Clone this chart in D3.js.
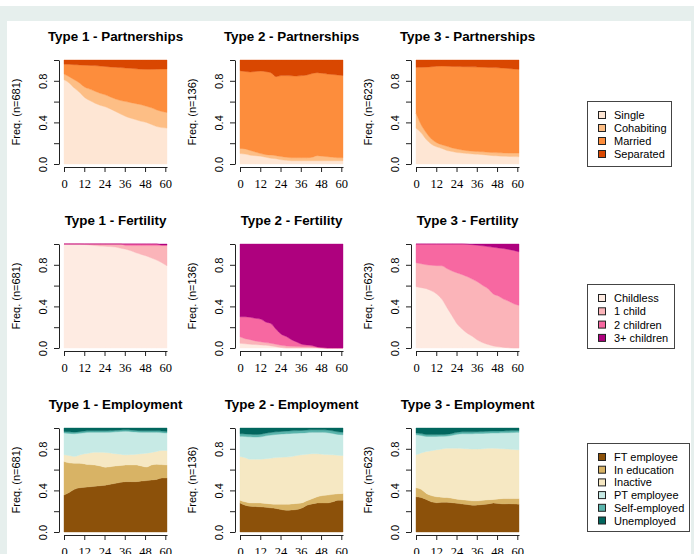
<!DOCTYPE html>
<html><head><meta charset="utf-8">
<script src="https://cdn.jsdelivr.net/npm/d3@7"></script>
<style>body{margin:0;background:#fff}svg{display:block}</style>
</head><body>
<svg id="c" width="694" height="554"></svg>
<script>
// ---------------- DATA ----------------
const months = [0,3,6,9,12,15,18,21,24,27,30,33,36,39,42,45,48,51,54,57,60];
const typeLabels = ["Type 1","Type 2","Type 3"];
const typeN = [681,136,623];
const xTicks = [0,12,24,36,48,60];
const yTicks = [0,0.2,0.4,0.6,0.8,1];
const yTickLabels = ["0.0","","0.4","","0.8",""];

// Partnerships
const partStates = ["Single","Cohabiting","Married","Separated"];
const partColors = ["#FEE6D4","#FDBE85","#FD8D3C","#D94701"];
const p1Single = [.81,.78,.73,.69,.64,.61,.585,.565,.55,.53,.505,.48,.457,.44,.425,.41,.40,.38,.36,.35,.345];
const p1Cohab  = [.055,.06,.08,.09,.10,.11,.115,.115,.115,.115,.12,.13,.143,.15,.155,.16,.155,.16,.16,.155,.15];
const p1Married= [.095,.118,.145,.173,.21,.228,.246,.262,.273,.288,.305,.317,.323,.33,.335,.342,.355,.37,.392,.408,.419];
const p1Sep    = [.04,.042,.045,.047,.05,.052,.054,.058,.062,.067,.07,.073,.077,.08,.085,.088,.09,.09,.088,.087,.086];
const p2Single = [.10,.095,.085,.08,.075,.065,.055,.05,.04,.035,.032,.032,.032,.032,.032,.032,.032,.032,.032,.032,.032];
const p2Cohab  = [.05,.05,.045,.035,.025,.025,.032,.03,.032,.03,.028,.028,.028,.028,.033,.048,.043,.038,.033,.028,.028];
const p2Married= [.747,.745,.755,.775,.794,.798,.791,.76,.778,.785,.788,.786,.79,.796,.805,.798,.797,.795,.795,.796,.79];
const p2Sep    = [.103,.11,.115,.11,.106,.112,.122,.16,.15,.15,.152,.154,.15,.144,.13,.122,.128,.135,.14,.144,.15];
const p3Single = [.345,.30,.235,.19,.165,.15,.13,.12,.11,.105,.10,.097,.093,.09,.085,.08,.078,.075,.073,.071,.07];
const p3Cohab  = [.145,.077,.065,.05,.04,.035,.04,.035,.034,.03,.028,.026,.027,.027,.028,.03,.03,.031,.032,.034,.035];
const p3Married= [.44,.553,.632,.695,.735,.757,.77,.783,.793,.801,.807,.811,.812,.813,.815,.817,.817,.816,.813,.809,.805];
const p3Sep    = [.07,.07,.068,.065,.06,.058,.06,.062,.063,.064,.065,.066,.068,.07,.072,.073,.075,.078,.082,.086,.09];

// Fertility
const fertStates = ["Childless","1 child","2 children","3+ children"];
const fertColors = ["#FEEBE2","#FBB4B9","#F768A1","#AE017E"];
const f1None  = [1,1,1,1,.995,.99,.985,.98,.978,.975,.97,.96,.95,.935,.915,.90,.885,.865,.845,.82,.79];
const f1One   = [0,0,0,0,.005,.01,.015,.02,.022,.025,.03,.04,.035,.05,.07,.085,.10,.12,.14,.165,.195];
const f1Two   = [0,0,0,0,0,0,0,0,0,0,0,0,.015,.015,.015,.015,.015,.015,.015,.005,.005];
const f1Three = [0,0,0,0,0,0,0,0,0,0,0,0,0,0,0,0,0,0,0,.01,.01];
const f2None  = [.045,.04,.036,.033,.03,.027,.02,.013,.005,0,0,0,0,0,0,0,0,0,0,0,0];
const f2One   = [.062,.05,.044,.035,.03,.025,.025,.023,.021,.02,.016,.014,.013,.012,.01,.005,0,0,0,0,0];
const f2Two   = [.193,.21,.215,.217,.218,.198,.19,.144,.107,.09,.064,.044,.023,.018,.015,.005,.005,0,0,0,0];
const f2Three = [.70,.70,.705,.715,.722,.75,.765,.82,.867,.89,.92,.942,.964,.97,.975,.99,.995,1,1,1,1];
const f3None  = [.59,.58,.57,.55,.52,.47,.39,.31,.23,.18,.14,.11,.074,.05,.033,.02,.012,.006,.003,0,0];
const f3One   = [.23,.23,.23,.245,.272,.32,.374,.43,.492,.525,.545,.55,.561,.55,.537,.50,.488,.464,.447,.425,.41];
const f3Two   = [.18,.19,.20,.205,.208,.21,.236,.26,.278,.295,.312,.333,.353,.382,.405,.448,.462,.486,.498,.513,.515];
const f3Three = [0,0,0,0,0,0,0,0,0,0,.003,.007,.012,.018,.025,.032,.038,.044,.052,.062,.075];

// Employment
const empStates = ["FT employee","In education","Inactive","PT employee","Self-employed","Unemployed"];
const empColors = ["#8C510A","#D8B365","#F6E8C3","#C7EAE5","#5AB4AC","#01665E"];
const e1FT    = [.355,.38,.41,.425,.43,.435,.44,.445,.45,.46,.468,.478,.484,.484,.484,.49,.494,.50,.506,.52,.52];
const e1Edu   = [.322,.285,.25,.235,.225,.213,.205,.19,.173,.168,.167,.162,.161,.161,.161,.145,.131,.145,.146,.128,.125];
const e1Inact = [.065,.07,.066,.08,.097,.112,.123,.131,.142,.132,.117,.108,.097,.10,.103,.117,.133,.12,.123,.136,.139];
const e1PT    = [.21,.213,.219,.21,.203,.198,.19,.192,.193,.20,.211,.218,.226,.22,.214,.206,.20,.193,.183,.171,.168];
const e1Self  = [.015,.015,.015,.015,.015,.015,.015,.015,.015,.015,.015,.015,.015,.015,.015,.015,.015,.015,.015,.015,.015];
const e1Unemp = [.033,.037,.04,.035,.03,.027,.027,.027,.027,.025,.022,.019,.017,.02,.023,.027,.027,.027,.027,.03,.033];
const e2FT    = [.28,.258,.248,.245,.242,.238,.232,.226,.216,.21,.212,.216,.23,.258,.27,.28,.28,.28,.29,.306,.306];
const e2Edu   = [.026,.032,.032,.035,.038,.037,.038,.042,.052,.058,.058,.059,.05,.042,.05,.059,.07,.075,.072,.062,.065];
const e2Inact = [.42,.425,.42,.42,.42,.43,.44,.448,.45,.452,.455,.46,.462,.448,.432,.413,.398,.39,.38,.37,.364];
const e2PT    = [.194,.203,.215,.213,.215,.22,.222,.222,.224,.225,.223,.215,.21,.207,.206,.206,.21,.21,.206,.20,.20];
const e2Self  = [.025,.025,.025,.025,.025,.025,.025,.025,.025,.025,.025,.025,.025,.025,.025,.025,.025,.025,.025,.025,.025];
const e2Unemp = [.055,.057,.06,.062,.06,.05,.043,.037,.033,.03,.027,.025,.023,.02,.017,.017,.017,.02,.027,.037,.04];
const e3FT    = [.339,.332,.313,.29,.282,.285,.287,.282,.276,.27,.265,.258,.26,.265,.27,.28,.275,.27,.272,.27,.268];
const e3Edu   = [.087,.078,.058,.06,.057,.05,.045,.043,.04,.04,.04,.042,.04,.04,.04,.033,.043,.053,.051,.053,.055];
const e3Inact = [.316,.35,.403,.432,.451,.463,.474,.481,.49,.494,.495,.497,.497,.495,.495,.493,.485,.477,.474,.47,.467];
const e3PT    = [.193,.168,.145,.137,.129,.122,.116,.124,.134,.141,.145,.148,.15,.148,.145,.146,.149,.154,.158,.164,.168];
const e3Self  = [.018,.018,.018,.018,.018,.018,.018,.018,.018,.018,.018,.018,.018,.018,.018,.018,.018,.018,.018,.018,.018];
const e3Unemp = [.047,.054,.063,.063,.063,.062,.06,.052,.042,.037,.037,.037,.035,.034,.032,.03,.03,.028,.027,.025,.024];

// ---------------- BUILD ----------------
const domains = [
  {name:"Partnerships", states:partStates, colors:partColors,
   types:[[p1Single,p1Cohab,p1Married,p1Sep],[p2Single,p2Cohab,p2Married,p2Sep],[p3Single,p3Cohab,p3Married,p3Sep]]},
  {name:"Fertility", states:fertStates, colors:fertColors,
   types:[[f1None,f1One,f1Two,f1Three],[f2None,f2One,f2Two,f2Three],[f3None,f3One,f3Two,f3Three]]},
  {name:"Employment", states:empStates, colors:empColors,
   types:[[e1FT,e1Edu,e1Inact,e1PT,e1Self,e1Unemp],[e2FT,e2Edu,e2Inact,e2PT,e2Self,e2Unemp],[e3FT,e3Edu,e3Inact,e3PT,e3Self,e3Unemp]]}
];

const svg = d3.select("#c");
svg.append("rect").attr("x",0).attr("y",0).attr("width",694).attr("height",554).attr("fill","#fff");
svg.append("rect").attr("x",0).attr("y",6).attr("width",694).attr("height",548).attr("fill","#E6EFED");
svg.append("rect").attr("x",7).attr("y",21).attr("width",684).attr("height",533).attr("fill","#fff");

const colLeft = [64,240,416];
const rowTop = [60,244,428];
const pw = 103, ph = 104;
const sans = "'Liberation Sans', Arial, sans-serif";
const serif = "'Liberation Serif', 'Times New Roman', serif";

domains.forEach((dom, r) => {
  dom.types.forEach((series, c) => {
    const left = colLeft[c], top = rowTop[r];
    const g = svg.append("g");
    const xData = d3.scaleLinear().domain([0,60]).range([left, left+pw]);
    const xAxisS = d3.scaleLinear().domain([0,61]).range([left, left+pw]);
    const y = d3.scaleLinear().domain([0,1]).range([top+ph, top]);

    const rows = months.map((m,i) => {
      const o = {m};
      dom.states.forEach((s,k) => o[s] = series[k][i]);
      return o;
    });
    const stacked = d3.stack().keys(dom.states)(rows);
    const area = d3.area()
      .x(d => xData(d.data.m))
      .y0(d => y(d[0]))
      .y1(d => y(d[1]))
      .curve(d3.curveMonotoneX);
    g.selectAll("path.a").data(stacked).join("path")
      .attr("class","a")
      .attr("d", area)
      .attr("fill", (d,k) => dom.colors[k])
      .attr("stroke", (d,k) => dom.colors[k])
      .attr("stroke-width", 0.4);

    // title
    g.append("text").attr("x", left + pw/2).attr("y", top - 19)
      .attr("text-anchor","middle").attr("font-family", sans)
      .attr("font-weight","bold").attr("font-size", 13.4).attr("fill","#000")
      .text(`${typeLabels[c]} - ${dom.name}`);

    // y axis
    const ya = g.append("g").attr("transform", `translate(${left-5},0)`)
      .call(d3.axisLeft(y).tickValues(yTicks).tickSize(5).tickSizeOuter(0)
        .tickFormat((d,i) => yTickLabels[i]));
    ya.select(".domain").attr("stroke","#222");
    ya.selectAll(".tick line").attr("stroke","#222");
    ya.selectAll("text").attr("transform","rotate(-90)")
      .attr("x",0).attr("y",-12).attr("dy",0)
      .attr("text-anchor","middle").attr("font-family", sans)
      .attr("font-size", 11).attr("fill","#000");

    // x axis
    const xa = g.append("g").attr("transform", `translate(0,${top+ph+3})`)
      .call(d3.axisBottom(xAxisS).tickValues(xTicks).tickSize(5).tickSizeOuter(0).tickPadding(7));
    xa.select(".domain").attr("stroke","#222");
    xa.selectAll(".tick line").attr("stroke","#222");
    xa.selectAll("text").attr("font-family", serif).attr("font-size", 12.5).attr("fill","#000");

    // y label
    g.append("text")
      .attr("transform", `translate(${left-44},${top+ph/2}) rotate(-90)`)
      .attr("text-anchor","middle").attr("font-family", sans)
      .attr("font-size", 11).attr("fill","#000")
      .text(`Freq. (n=${typeN[c]})`);
  });
});

// legends
const legendBoxes = [
  {x:587, y:101, w:84, h:65, first:115, step:13},
  {x:587, y:284, w:87, h:64, first:298, step:13.3},
  {x:587, y:443, w:102, h:88, first:457, step:12.7}
];
domains.forEach((dom, r) => {
  const b = legendBoxes[r];
  const lg = svg.append("g");
  lg.append("rect").attr("x",b.x+0.5).attr("y",b.y+0.5).attr("width",b.w).attr("height",b.h)
    .attr("fill","#fff").attr("stroke","#444");
  dom.states.forEach((s,k) => {
    const cy = b.first + k*b.step;
    lg.append("rect").attr("x",598.5).attr("y",cy-3.5).attr("width",7).attr("height",7)
      .attr("fill",dom.colors[k]).attr("stroke","#222").attr("stroke-width",1);
    lg.append("text").attr("x",614).attr("y",cy+4).attr("font-family",sans)
      .attr("font-size",11).attr("fill","#000").text(s);
  });
});
</script>
</body></html>
